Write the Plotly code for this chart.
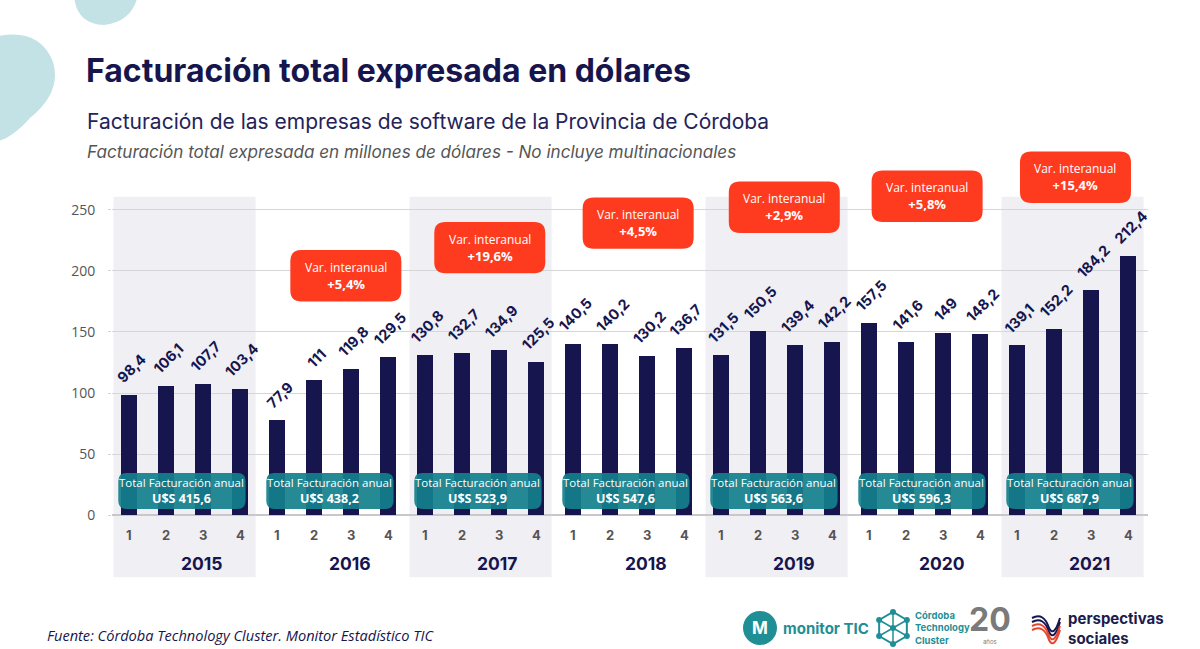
import math
import plotly.graph_objects as go

# ---------------- data ----------------
years = [2015, 2016, 2017, 2018, 2019, 2020, 2021]
quarters = ["1", "2", "3", "4"]
values = [
    98.4, 106.1, 107.7, 103.4,
    77.9, 111, 119.8, 129.5,
    130.8, 132.7, 134.9, 125.5,
    140.5, 140.2, 130.2, 136.7,
    131.5, 150.5, 139.4, 142.2,
    157.5, 141.6, 149, 148.2,
    139.1, 152.2, 184.2, 212.4,
]
annual_totals = [415.6, 438.2, 523.9, 547.6, 563.6, 596.3, 687.9]
var_interanual = [None, 5.4, 19.6, 4.5, 2.9, 5.8, 15.4]
ytick_vals = [0, 50, 100, 150, 200, 250]

# ---------------- style ----------------
NAVY = "#16154d"
TEAL = "rgba(20,128,140,0.92)"
RED = "#ff3b1f"
BAND = "#efeff4"
GREY = "#555555"

W, H = 1200, 649
SLOT = 37.0
L, T, B = 112, 140, 59
XMIN, XMAX = -0.46, 27.54
PW = (XMAX - XMIN) * SLOT
R = W - L - PW
PH = H - T - B
YMIN, YMAX = -61, 307


def fmt(v):
    return f"{v:g}".replace(".", ",")


def px(x):
    return (x - L) / PW


def py(y):
    return (H - B - y) / PH


def rrect(x0, x1, y0, y1, rx, ry):
    return (f"M {x0+rx},{y0} L {x1-rx},{y0} Q {x1},{y0} {x1},{y0+ry} "
            f"L {x1},{y1-ry} Q {x1},{y1} {x1-rx},{y1} L {x0+rx},{y1} "
            f"Q {x0},{y1} {x0},{y1-ry} L {x0},{y0+ry} Q {x0},{y0} {x0+rx},{y0} Z")


n = len(values)
xs = list(range(n))

fig = go.Figure()
fig.add_trace(go.Bar(x=xs, y=values, width=0.44, marker=dict(color=NAVY, line=dict(width=0)),
                     hoverinfo="skip", showlegend=False))

shapes = []
annotations = []


def note(x, y, text, size, color, family="Inter", xanchor="center", yanchor="middle", **kw):
    annotations.append(dict(x=x, y=y, xref="paper", yref="paper", text=text, showarrow=False,
                            xanchor=xanchor, yanchor=yanchor,
                            font=dict(family=family, size=size, color=color), **kw))


# year bands (alternate)
for i, yr in enumerate(years):
    if i % 2 == 0:
        shapes.append(dict(type="rect", xref="x", yref="y", x0=4 * i - 0.42, x1=4 * i + 3.42,
                           y0=-50.5, y1=260.5, fillcolor=BAND, line=dict(width=0), layer="below"))

# value labels
for x, v in zip(xs, values):
    annotations.append(dict(x=x, y=v, xref="x", yref="y", text=f"<b>{fmt(v)}</b>", showarrow=False,
                            textangle=-45, xanchor="center", yanchor="bottom", yshift=6, xshift=2,
                            font=dict(family="Inter", size=14.5, color=NAVY)))

# quarter + year labels
for i, yr in enumerate(years):
    for q, ql in enumerate(quarters):
        annotations.append(dict(x=4 * i + q, y=-16, xref="x", yref="y", text=f"<b>{ql}</b>",
                                showarrow=False, font=dict(family="Inter", size=13, color=GREY)))
    annotations.append(dict(x=4 * i + 1.97, y=-39, xref="x", yref="y", text=f"<b>{yr}</b>",
                            showarrow=False, font=dict(family="Inter", size=17.5, color=NAVY)))

# totals boxes
for i, tot in enumerate(annual_totals):
    cx = 4 * i + 1.43
    shapes.append(dict(type="path", xref="x", yref="y",
                       path=rrect(cx - 1.72, cx + 1.72, 5.3, 34.7, 0.22, 6.5),
                       fillcolor=TEAL, line=dict(width=0), layer="above"))
    annotations.append(dict(x=cx, y=20, xref="x", yref="y",
                            text=(f"<span style='font-size:11.5px'>Total Facturación anual</span>"
                                  f"<br><b>U$S {fmt(tot)}</b>"),
                            showarrow=False, align="center",
                            font=dict(family="Open Sans", size=12.5, color="white")))

# variation boxes (center y in data units)
var_y = [None, 196, 219, 239, 252, 261, 276.5]
var_dx = [0, 0.36, 0.25, 0.26, 0.21, 0.07, 0.08]
for i, v in enumerate(var_interanual):
    if v is None:
        continue
    cx = 4 * i + 1.5 + var_dx[i]
    cy = var_y[i]
    shapes.append(dict(type="path", xref="x", yref="y",
                       path=rrect(cx - 1.5, cx + 1.5, cy - 21, cy + 21, 0.3, 9),
                       fillcolor=RED, line=dict(width=0), layer="above"))
    annotations.append(dict(x=cx, y=cy, xref="x", yref="y",
                            text=f"<span style='font-size:12px'>Var. interanual</span><br><b>+{fmt(v)}%</b>",
                            showarrow=False, align="center",
                            font=dict(family="Open Sans", size=13, color="white")))

# decorative blobs (top-left)
shapes.append(dict(type="path", xref="paper", yref="paper", layer="below",
                   path=(f"M {px(74)},{py(-5)} Q {px(76)},{py(24)} {px(104)},{py(25)} "
                         f"Q {px(132)},{py(22)} {px(138)},{py(-5)} Z"),
                   fillcolor="#c3e2e5", line=dict(width=0)))
shapes.append(dict(type="path", xref="paper", yref="paper", layer="below",
                   path=(f"M {px(-2)},{py(36)} Q {px(40)},{py(28)} {px(53)},{py(62)} "
                         f"Q {px(62)},{py(92)} {px(30)},{py(118)} Q {px(12)},{py(138)} {px(-2)},{py(141)} Z"),
                   fillcolor="#c3e2e5", line=dict(width=0)))

# titles
note(px(84), py(70), "<b>Facturación total expresada en dólares</b>", 32, NAVY, xanchor="left")
note(px(85), py(122), "Facturación de las empresas de software de la Provincia de Córdoba", 21,
     "#24235a", xanchor="left")
note(px(85), py(152), "<i>Facturación total expresada en millones de dólares - No incluye multinacionales</i>",
     17.1, GREY, xanchor="left")
note(px(45), py(635), "<i>Fuente: Córdoba Technology Cluster. Monitor Estadístico TIC</i>", 14.6, NAVY,
     family="Open Sans", xanchor="left")

# logos (approximations)
LTEAL = "#1f8f95"
shapes.append(dict(type="circle", xref="paper", yref="paper", x0=px(743), x1=px(777),
                   y0=py(645), y1=py(611), fillcolor=LTEAL, line=dict(width=0)))
note(px(760), py(628), "<b>M</b>", 17, "white")
note(px(781), py(628), "<b>monitor TIC</b>", 15, LTEAL, xanchor="left")

hx, hy, hr = 893, 628, 16
pts = [(hx + hr * math.cos(math.radians(a)), hy + hr * math.sin(math.radians(a))) for a in range(30, 390, 60)]
hexpath = "M " + " L ".join(f"{px(a)},{py(b)}" for a, b in pts) + " Z"
shapes.append(dict(type="path", xref="paper", yref="paper", path=hexpath,
                   line=dict(color=LTEAL, width=2), fillcolor="rgba(0,0,0,0)"))
for a, b in pts + [(hx, hy)]:
    shapes.append(dict(type="line", xref="paper", yref="paper", x0=px(a), x1=px(hx), y0=py(b), y1=py(hy),
                       line=dict(color=LTEAL, width=1.5)))
    shapes.append(dict(type="circle", xref="paper", yref="paper", x0=px(a - 3), x1=px(a + 3),
                       y0=py(b + 3), y1=py(b - 3), fillcolor=LTEAL, line=dict(width=0)))
note(px(913), py(628), "<b>Córdoba<br>Technology<br>Cluster</b>", 9.5, LTEAL, xanchor="left", align="left")
note(px(990), py(619), "<b>20</b>", 32, "#7a7a7a")
note(px(990), py(641), "años", 6, "#7a7a7a")
for k, col in enumerate([NAVY, NAVY, "#e5452f", "#e5452f"]):
    off = k * 4
    shapes.append(dict(type="path", xref="paper", yref="paper",
                       path=(f"M {px(1032)},{py(618 + off)} Q {px(1044)},{py(612 + off)} {px(1049)},{py(628 + off)} "
                             f"Q {px(1054)},{py(638 + off)} {px(1060)},{py(618 + off)}"),
                       line=dict(color=col, width=2), fillcolor="rgba(0,0,0,0)"))
note(px(1066), py(628), "<b>perspectivas<br>sociales</b>", 15, "#1c1b4d", xanchor="left", align="left")

fig.update_layout(
    width=W, height=H,
    margin=dict(l=L, r=R, t=T, b=B, pad=0),
    paper_bgcolor="white", plot_bgcolor="rgba(0,0,0,0)",
    bargap=0,
    shapes=shapes, annotations=annotations,
    xaxis=dict(range=[XMIN, XMAX], showticklabels=False, showgrid=False, zeroline=False,
               showline=False, fixedrange=True),
    yaxis=dict(range=[YMIN, YMAX], tickvals=ytick_vals, ticktext=[str(t) for t in ytick_vals],
               showgrid=True, gridcolor="#d6d6da", gridwidth=1, zeroline=True, zerolinecolor="#c8c8cc",
               zerolinewidth=1.5, ticks="outside", ticklen=3, tickcolor="#d6d6da",
               tickfont=dict(family="Open Sans", size=14, color=GREY), ticklabelstandoff=10,
               showline=False, fixedrange=True),
    font=dict(family="Open Sans"),
)

fig.write_html("out.html")
